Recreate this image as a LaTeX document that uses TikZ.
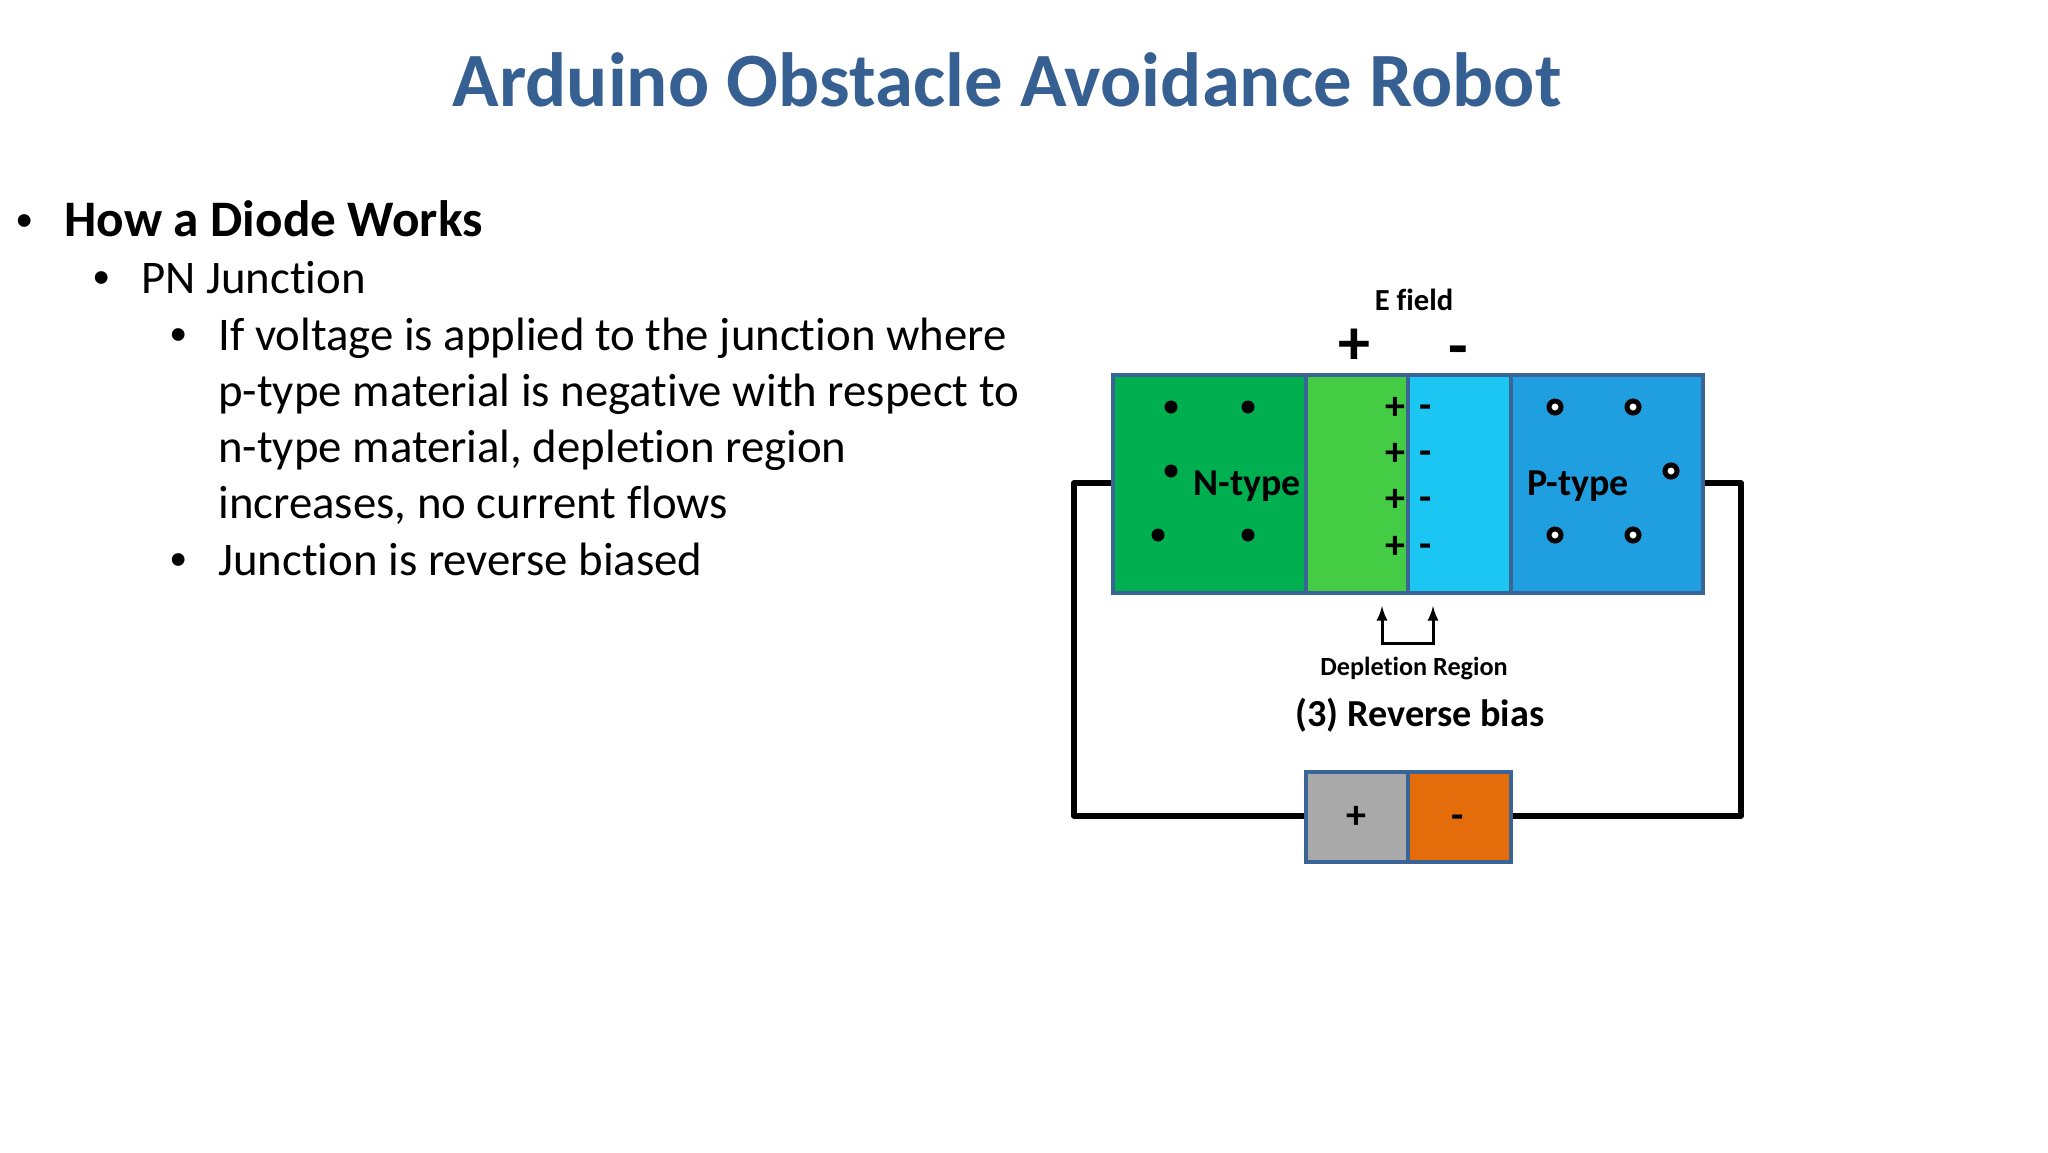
\documentclass[tikz,border=0pt]{standalone}
\usepackage{fontspec}
\setmainfont[Ligatures=NoCommon]{Carlito}
\newfontfamily\bulletfont{Liberation Sans}
\definecolor{titleblue}{HTML}{376092}
\definecolor{edgeblue}{HTML}{3A6495}
\definecolor{ngreen}{HTML}{00B050}
\definecolor{dgreen}{HTML}{44CC44}
\definecolor{dcyan}{HTML}{1CC6F3}
\definecolor{pblue}{HTML}{209FE0}
\definecolor{battgray}{HTML}{A9A9A9}
\definecolor{battorange}{HTML}{E46C0A}
\begin{document}
\begin{tikzpicture}[x=0.5pt,y=-0.5pt]
	\tikzstyle{region}=[rectangle,draw=edgeblue,line width=2pt,inner sep=0pt,minimum height=109pt]
	\tikzstyle{batt}=[rectangle,draw=edgeblue,line width=2pt,inner sep=0pt,minimum height=45pt]
	\tikzstyle{wire}=[draw=black,line width=2.8pt,line join=round]
	\tikzstyle{edge}=[draw=black,line width=1.5pt,-latex]
	\tikzstyle{edot}=[circle,fill=black,inner sep=0pt,minimum size=6.5pt]
	\tikzstyle{hole}=[circle,draw=black,fill=white,line width=2.5pt,inner sep=0pt,minimum size=6pt]
	\tikzstyle{lbl}=[inner sep=0pt,font=\bfseries\fontsize{19}{19}\selectfont]
	\tikzstyle{chg}=[inner sep=0pt,font=\bfseries\fontsize{20}{20}\selectfont]
	\tikzstyle{bullet}=[anchor=base west,inner sep=0pt,align=left]
	\tikzstyle{txta}=[bullet,font=\bfseries\fontsize{25.6}{28}\selectfont]
	\tikzstyle{txtb}=[bullet,font=\fontsize{23.4}{28}\selectfont]

	\useasboundingbox (0,0) rectangle (2048,1152);

	\node [inner sep=0pt,font=\bfseries\fontsize{38.4}{44}\selectfont,text=titleblue] (title) at (1007,80) {Arduino Obstacle Avoidance Robot};

	\node [txtb] (dota) at (16,236) {\bulletfont •};
	\node [txta] (howa) at (64,236) {How a Diode Works};
	\node [txtb] (dotb) at (93,293) {\bulletfont •};
	\node [txtb] (pnj) at (141,293) {PN Junction};
	\node [txtb] (dotc) at (170,350) {\bulletfont •};
	\node [txtb] (ifv) at (218,518) {If voltage is applied to the junction where\\p-type material is negative with respect to\\n-type material, depletion region\\increases, no current flows};
	\node [txtb] (dotd) at (170,575) {\bulletfont •};
	\node [txtb] (jct) at (218,575) {Junction is reverse biased};

	\node [region,fill=ngreen,minimum width=96.5pt] (ntype) at (1209.5,484) {};
	\node [region,fill=dgreen,minimum width=51pt] (dleft) at (1357,484) {};
	\node [region,fill=dcyan,minimum width=51.5pt] (dright) at (1459.5,484) {};
	\node [region,fill=pblue,minimum width=96pt] (ptype) at (1607,484) {};

	\node [batt,fill=battgray,minimum width=51pt] (bplus) at (1357,817) {};
	\node [batt,fill=battorange,minimum width=51.5pt] (bminus) at (1459.5,817) {};
	\node [chg] (bplbl) at (1356,817) {+};
	\node [chg] (bmlbl) at (1458,822) {-};

	\coordinate (wa) at (1074,483);
	\coordinate (wb) at (1074,816);
	\coordinate (wc) at (1741,483);
	\coordinate (wd) at (1741,816);
	\path[wire] (ntype.west |- wa) -- (wa) -- (wb) -- (bplus.west |- wb);
	\path[wire] (ptype.east |- wc) -- (wc) -- (wd) -- (bminus.east |- wd);

	\node [lbl] (nlbl) at (1247,486) {N-type};
	\node [lbl] (plbl) at (1578,486) {P-type};

	\node [edot] (na) at (1171,407) {};
	\node [edot] (nb) at (1248,407) {};
	\node [edot] (nc) at (1171,471) {};
	\node [edot] (nd) at (1158,535) {};
	\node [edot] (ne) at (1248,535) {};
	\node [hole] (pa) at (1555,407) {};
	\node [hole] (pb) at (1633,407) {};
	\node [hole] (pc) at (1671,471) {};
	\node [hole] (pd) at (1555,535) {};
	\node [hole] (pe) at (1633,535) {};

	\foreach \i/\y in {a/407,b/453,c/499,d/546}{
		\node [chg] (plus\i) at (1395,\y+1) {+};
		\node [chg] (minus\i) at (1426,\y+5) {-};
	}

	\node [lbl,font=\bfseries\fontsize{15.3}{15.3}\selectfont] (efield) at (1414,300) {E field};
	\node [chg,font=\bfseries\fontsize{32}{32}\selectfont] (bigp) at (1354,347) {+};
	\node [chg,font=\bfseries\fontsize{32}{32}\selectfont] (bigm) at (1458,357) {-};

	\coordinate (tipa) at (1382,606);
	\coordinate (tipb) at (1433,606);
	\coordinate (bota) at (1382,643);
	\coordinate (botb) at (1433,643);
	\path[edge,latex-latex] (tipa) -- (bota) -- (botb) -- (tipb);

	\node [lbl,font=\bfseries\fontsize{13.1}{13.1}\selectfont] (dep) at (1414,669) {Depletion Region};
	\node [lbl,font=\bfseries\fontsize{19.1}{19.1}\selectfont] (rev) at (1420,715) {(3) Reverse bias};
\end{tikzpicture}
\end{document}
